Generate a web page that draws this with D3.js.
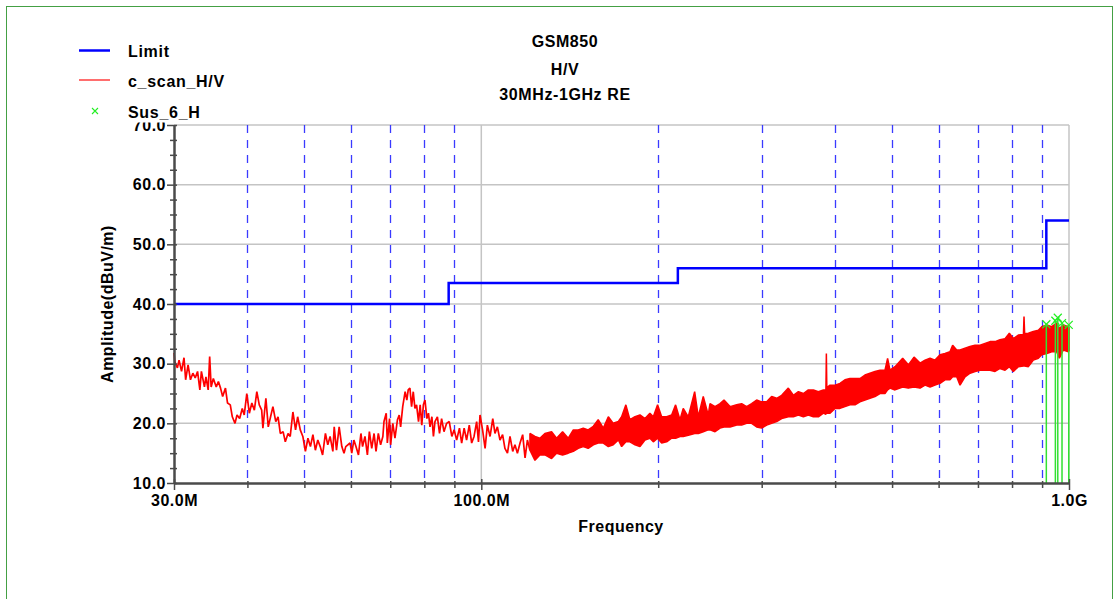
<!DOCTYPE html>
<html>
<head>
<meta charset="utf-8">
<script src="https://cdn.jsdelivr.net/npm/d3@7"></script>
<style>
  body { margin: 0; background: #fff; }
  svg text { font-family: "Liberation Sans", Arial, sans-serif; font-weight: bold; fill: #000; }
</style>
</head>
<body>
<div id="chart"></div>
<script>
// chart values
var titleLines = ["GSM850", "H/V", "30MHz-1GHz RE"];
var legendNames = ["Limit", "c_scan_H/V", "Sus_6_H"];

var yMajor = [10, 20, 30, 40, 50, 60, 70];
var yMinor = [12.5, 15, 17.5, 22.5, 25, 27.5, 32.5, 35, 37.5, 42.5, 45, 47.5, 52.5, 55, 57.5, 62.5, 65, 67.5];
var xLabelFreqs = [30, 100, 1000];
var xLabels = ["30.0M", "100.0M", "1.0G"];
var dashedFreqs = [40, 50, 60, 70, 80, 90, 200, 300, 400, 500, 600, 700, 800, 900];

var limitFreqs = [30, 88, 88, 216, 216, 915, 915, 1000];
var limitLevels = [40, 40, 43.5, 43.5, 46, 46, 54, 54];

// low band of the scan, single trace (MHz, dBuV/m)
var scanFreqs = [30.0, 30.1, 30.4, 30.6, 30.9, 31.2, 31.4, 31.7, 32.0, 32.3, 32.6, 32.9, 33.2, 33.4, 33.8, 34.0, 34.3, 34.5, 34.7, 35.0,
  35.4, 35.7, 36.0, 36.3, 36.7, 37.0, 37.4, 37.7, 38.1, 38.4, 38.8, 39.2, 39.5, 39.9, 40.3, 40.7, 41.1, 41.5, 41.9, 42.3,
  42.5, 43.0, 43.4, 43.8, 44.2, 44.7, 45.1, 45.5, 46.0, 46.4, 46.9, 47.3, 47.8, 48.3, 48.7, 49.2, 49.7, 50.2, 50.7, 51.2,
  51.7, 52.2, 52.7, 53.2, 53.7, 54.3, 54.8, 55.3, 55.9, 56.2, 56.7, 57.3, 57.9, 58.4, 58.8,
  59.8, 60.2, 60.7, 61.2, 61.8, 62.4, 62.8, 63.4, 64.0, 64.5, 65.1, 65.7, 66.2, 66.8, 67.4, 68.0, 68.3, 68.9, 69.2, 69.8,
  70.1, 70.7, 71.3, 72.0, 72.5, 72.9, 73.5, 74.2, 74.7, 75.1, 75.6, 76.1, 76.6, 77.1, 77.6, 78.2, 78.7, 79.2, 79.7, 80.2,
  80.8, 81.3, 81.8, 82.4, 82.9, 83.4, 84.2, 84.9, 85.6, 86.4, 87.3, 88.2, 89.1, 89.9, 90.8, 91.8, 92.6, 93.5, 94.4, 95.4,
  96.3, 97.2, 98.2, 98.9, 99.5, 100.5, 101.5, 102.4, 103.5, 104.6, 105.5, 106.5, 107.6, 108.7, 109.7, 110.8, 111.9, 113.1, 114.1, 115.2,
  116.4, 117.6, 118.7, 119.8, 121.0];
var scanLevels = [31.8, 30.3, 29.3, 30.6, 28.7, 31.0, 27.3, 29.8, 27.3, 28.4, 27.6, 28.7, 25.6, 28.7, 26.1, 27.8, 25.6, 31.2, 26.1, 27.5,
  26.1, 27.0, 25.9, 24.5, 25.9, 23.4, 23.1, 21.1, 20.0, 21.4, 20.8, 22.5, 21.4, 25.0, 21.7, 23.4, 22.2, 25.3, 23.1, 22.2,
  19.2, 24.2, 19.4, 21.1, 22.8, 20.3, 21.1, 18.3, 18.6, 16.9, 18.3, 17.8, 21.9, 18.9, 21.1, 18.9, 17.8, 15.3, 17.5, 16.1,
  18.1, 15.5, 17.2, 16.1, 14.7, 18.3, 16.4, 17.8, 15.3, 19.4, 15.5, 19.4, 16.1, 15.0, 16.1,
  16.7, 15.0, 17.2, 16.1, 14.7, 18.3, 16.1, 17.8, 14.7, 18.6, 15.8, 18.3, 15.3, 18.3, 16.4, 17.8, 20.3, 21.7, 16.7, 20.8,
  16.4, 20.0, 17.5, 20.6, 21.4, 19.4, 22.8, 25.3, 23.9, 25.6, 25.9, 22.8, 25.3, 22.5, 23.1, 20.3, 23.1, 19.7, 23.1, 23.9,
  20.8, 21.7, 19.4, 21.1, 17.8, 20.3, 21.1, 18.3, 20.8, 18.6, 20.0, 20.3, 17.8, 18.9, 17.2, 19.2, 16.7, 19.2, 17.2, 19.7,
  16.7, 17.8, 20.3, 16.9, 21.4, 18.9, 15.8, 19.7, 17.8, 20.8, 18.3, 19.4, 17.2, 18.1, 15.8, 15.0, 17.8, 15.3, 16.4, 15.0,
  16.7, 18.1, 14.2, 17.2, 15.5];

// upper band of the scan, dense noise: top and bottom of the band (MHz, dBuV/m)
var bandFreqs = [121.0, 123.4, 125.8, 128.3, 131.7, 134.3, 137.5, 140.6, 143.4, 146.2, 149.1, 152.0, 155.1, 158.1, 161.3, 164.5, 167.7, 171.1, 173.3, 176.2,
  179.0, 182.6, 186.2, 189.9, 193.6, 196.2, 199.5, 202.7, 206.7, 210.8, 214.1, 217.8, 220.6, 225.0, 230.7, 234.0, 238.6, 243.3,
  245.0, 249.9, 254.8, 258.8, 265.0, 272.0, 277.3, 282.8, 288.4, 294.1, 299.9, 305.9, 311.9, 318.1, 324.4, 333.0, 339.6, 346.4, 353.2, 360.2,
  367.3, 374.6, 382.0, 385.8, 386.5, 387.2, 392.1, 399.8, 407.7, 415.7, 424.0, 432.4, 440.9, 449.6, 458.5, 467.6, 476.8, 486.3, 491.3, 495.9,
  505.8, 521.2, 532.9, 544.9, 557.9, 568.9, 580.2, 591.6, 603.3, 615.2, 627.3, 633.9, 644.0, 652.5, 665.4, 678.6, 692.1, 705.8, 719.7, 733.9,
  748.4, 763.2, 778.3, 791.6, 804.2, 820.0, 836.5, 838.4, 840.5, 852.9, 869.7, 886.9, 898.6, 916.4, 934.5, 952.9, 962.9, 978.1, 997.5, 1000];
var bandTop = [18.3, 17.8, 17.5, 18.3, 18.6, 17.5, 18.6, 17.5, 18.9, 18.9, 19.2, 18.9, 19.5, 20.6, 19.2, 21.1, 20.0, 20.3, 21.1, 23.1,
  20.6, 21.1, 21.4, 20.8, 21.7, 21.1, 23.1, 21.1, 21.1, 21.4, 23.1, 20.6, 22.5, 21.1, 25.3, 21.1, 24.5, 21.4,
  23.3, 22.8, 23.3, 23.9, 22.8, 23.1, 23.3, 22.8, 23.3, 23.9, 23.6, 23.6, 24.5, 24.2, 24.7, 25.9, 24.7, 25.3, 25.0, 25.6,
  25.6, 25.3, 25.6, 25.6, 31.7, 26.0, 26.4, 26.4, 26.7, 27.3, 27.5, 27.5, 27.5, 28.1, 28.4, 28.7, 28.9, 28.9, 30.9, 28.9,
  29.5, 30.9, 29.8, 31.1, 30.1, 30.6, 30.9, 30.6, 31.5, 31.7, 32.0, 33.1, 32.3, 32.3, 32.6, 32.9, 33.1, 33.1, 33.4, 33.7,
  33.7, 34.0, 34.2, 35.1, 34.2, 34.8, 34.9, 37.9, 35.0, 35.1, 35.4, 35.6, 36.2, 36.5, 36.2, 36.8, 35.9, 36.5, 36.2, 36.0];
var bandBottom = [15.5, 13.8, 14.7, 14.7, 14.1, 15.0, 14.7, 15.0, 15.3, 15.8, 16.1, 15.8, 16.4, 16.7, 16.7, 16.1, 16.4, 17.2, 16.1, 16.9,
  16.9, 16.4, 16.1, 17.2, 17.5, 16.9, 17.5, 16.7, 16.9, 17.5, 17.5, 17.8, 17.8, 18.0, 18.3, 18.3, 18.6, 18.9,
  18.9, 18.6, 19.2, 19.4, 19.4, 19.7, 19.7, 20.0, 20.0, 19.4, 19.2, 19.7, 20.0, 20.3, 20.8, 21.1, 21.1, 21.4, 21.1, 21.4,
  21.1, 21.1, 21.7, 21.5, 23.3, 21.7, 21.7, 22.5, 22.5, 22.8, 23.1, 23.1, 23.6, 23.9, 24.2, 24.5, 25.0, 25.0, 25.6, 25.9,
  25.6, 26.1, 25.9, 26.1, 25.9, 26.4, 26.1, 26.4, 26.7, 27.3, 27.3, 27.8, 27.8, 26.4, 27.8, 28.4, 28.7, 28.9, 28.9, 28.9,
  28.7, 29.2, 28.9, 29.5, 28.7, 29.5, 29.6, 29.8, 29.6, 29.5, 30.6, 30.9, 31.5, 31.7, 32.0, 32.0, 30.9, 32.3, 32.0, 32.2];

var susFreqs = [915, 948, 957, 973, 999];
var susLevels = [36.6, 37.2, 37.7, 36.8, 36.5];

var svgWidth = 1118;
var svgHeight = 599;
var plot = { left: 174, right: 1069, top: 125, bottom: 483 };

var svg = d3.select("#chart")
    .append("svg")
    .attr("width", svgWidth)
    .attr("height", svgHeight);

var x = d3.scaleLog().domain([30, 1000]).range([plot.left, plot.right]);
var y = d3.scaleLinear().domain([10, 70]).range([plot.bottom, plot.top]);

// outer frame
svg.append("rect")
    .attr("x", 6.5).attr("y", 6.5)
    .attr("width", 1106).attr("height", 640)
    .attr("fill", "none")
    .attr("stroke", "#44a044")
    .attr("stroke-width", 1);

// title
svg.selectAll(".title")
    .data(titleLines)
    .enter()
    .append("text")
    .attr("class", "title")
    .attr("x", 565)
    .attr("y", (d, i) => [47, 75, 100][i])
    .attr("text-anchor", "middle")
    .style("font-size", "16px")
    .style("letter-spacing", "0.6px")
    .text(d => d);

// grid
var grid = svg.append("g");
grid.selectAll(".hgrid")
    .data([20, 30, 40, 50, 60, 70])
    .enter()
    .append("line")
    .attr("x1", plot.left).attr("x2", plot.right)
    .attr("y1", d => y(d)).attr("y2", d => y(d))
    .attr("stroke", "#c4c4c4")
    .attr("stroke-width", 1.5);
grid.selectAll(".vgrid")
    .data([100, 1000])
    .enter()
    .append("line")
    .attr("x1", d => x(d)).attr("x2", d => x(d))
    .attr("y1", plot.top).attr("y2", plot.bottom)
    .attr("stroke", "#c4c4c4")
    .attr("stroke-width", 1.5);
grid.selectAll(".dashed")
    .data(dashedFreqs)
    .enter()
    .append("line")
    .attr("x1", d => Math.round(x(d)) + 0.5).attr("x2", d => Math.round(x(d)) + 0.5)
    .attr("y1", plot.top).attr("y2", plot.bottom)
    .attr("stroke", "#3a3aff")
    .attr("stroke-width", 1.3)
    .attr("stroke-dasharray", "8,7");

// limit
var limitData = limitFreqs.map((f, i) => [f, limitLevels[i]]);
svg.append("path")
    .datum(limitData)
    .attr("fill", "none")
    .attr("stroke", "#0000ff")
    .attr("stroke-width", 2.5)
    .attr("d", d3.line().x(d => x(d[0])).y(d => y(d[1])));

// scan: low part as a line, upper part as a dense band
var scanData = scanFreqs.map((f, i) => [f, scanLevels[i]]);
svg.append("path")
    .datum(scanData)
    .attr("fill", "none")
    .attr("stroke", "#ff0000")
    .attr("stroke-width", 1.7)
    .attr("stroke-linejoin", "bevel")
    .attr("d", d3.line().x(d => x(d[0])).y(d => y(d[1])));

var bandData = bandFreqs.map((f, i) => ({ f: f, top: bandTop[i], bottom: bandBottom[i] }));
svg.append("path")
    .datum(bandData)
    .attr("fill", "#ff0000")
    .attr("stroke", "#ff0000")
    .attr("stroke-width", 1.5)
    .attr("stroke-linejoin", "bevel")
    .attr("d", d3.area().x(d => x(d.f)).y0(d => y(d.bottom)).y1(d => y(d.top)));

// suspect markers
var sus = svg.append("g");
susFreqs.forEach(function(f, i) {
    var cx = x(f), cy = y(susLevels[i]);
    sus.append("line")
        .attr("x1", cx).attr("x2", cx)
        .attr("y1", cy).attr("y2", plot.bottom)
        .attr("stroke", "#33e033")
        .attr("stroke-width", 1.5);
    sus.append("path")
        .attr("d", `M${cx - 4},${cy - 4}L${cx + 4},${cy + 4}M${cx - 4},${cy + 4}L${cx + 4},${cy - 4}`)
        .attr("stroke", "#22ee22")
        .attr("stroke-width", 1.2);
});

// axes
var axisColor = "#4a4a4a";
var leftAxis = d3.axisLeft(y).tickValues(yMajor).tickFormat(d => d.toFixed(1)).tickSize(7).tickSizeOuter(0).tickPadding(1);
var yAxisG = svg.append("g")
    .attr("transform", `translate(${plot.left}, 0)`)
    .call(leftAxis);
var yMinorG = svg.append("g")
    .attr("transform", `translate(${plot.left}, 0)`)
    .call(d3.axisLeft(y).tickValues(yMinor).tickFormat("").tickSize(4).tickSizeOuter(0));
yMinorG.select(".domain").remove();
yMinorG.selectAll(".tick line").attr("x2", -4).attr("x1", 3).attr("stroke", axisColor).attr("stroke-width", 1.5);
yAxisG.selectAll(".tick line").attr("x1", 3).attr("stroke", axisColor).attr("stroke-width", 1.5);
yAxisG.select(".domain").attr("stroke", axisColor).attr("stroke-width", 2.5);
yAxisG.selectAll("text")
    .style("font-size", "16px")
    .style("letter-spacing", "0.5px")
    .style("font-family", "'Liberation Sans', Arial, sans-serif");

var bottomAxis = d3.axisBottom(x).tickValues(xLabelFreqs).tickFormat((d, i) => xLabels[i]).tickSize(7).tickSizeOuter(0).tickPadding(5);
var xAxisG = svg.append("g")
    .attr("transform", `translate(0, ${plot.bottom})`)
    .call(bottomAxis);
xAxisG.select(".domain").attr("stroke", axisColor).attr("stroke-width", 2.5);
xAxisG.selectAll(".tick line").attr("y1", -4).attr("stroke", axisColor).attr("stroke-width", 1.5);
xAxisG.selectAll("text")
    .style("font-size", "16px")
    .style("letter-spacing", "0.5px")
    .style("font-family", "'Liberation Sans', Arial, sans-serif");
var xMinorG = svg.append("g")
    .attr("transform", `translate(0, ${plot.bottom})`)
    .call(d3.axisBottom(x).tickValues(dashedFreqs).tickFormat("").tickSize(5).tickSizeOuter(0));
xMinorG.select(".domain").remove();
xMinorG.selectAll(".tick line").attr("y1", -2).attr("stroke", axisColor).attr("stroke-width", 1.5);

// axis titles
svg.append("text")
    .attr("x", 621)
    .attr("y", 532)
    .attr("text-anchor", "middle")
    .style("font-size", "16px")
    .style("letter-spacing", "0.5px")
    .text("Frequency");

svg.append("text")
    .attr("transform", "translate(113, 304) rotate(-90)")
    .attr("text-anchor", "middle")
    .style("font-size", "16px")
    .style("letter-spacing", "0.5px")
    .text("Amplitude(dBuV/m)");

// legend (its white box sits over the top tick label, as in the original)
var legend = svg.append("g");
legend.append("rect")
    .attr("x", 70).attr("y", 30)
    .attr("width", 200).attr("height", 92.5)
    .attr("fill", "#fff");
legend.append("line")
    .attr("x1", 79).attr("x2", 110).attr("y1", 50.5).attr("y2", 50.5)
    .attr("stroke", "#0000ff").attr("stroke-width", 2.5);
legend.append("line")
    .attr("x1", 79).attr("x2", 110).attr("y1", 80).attr("y2", 80)
    .attr("stroke", "#ff2020").attr("stroke-width", 1.3);
legend.append("path")
    .attr("d", "M92,108L98,114M92,114L98,108")
    .attr("stroke", "#22ee22").attr("stroke-width", 1.1);
legend.selectAll(".legtext")
    .data(legendNames)
    .enter()
    .append("text")
    .attr("x", 128)
    .attr("y", (d, i) => [57, 87, 118][i])
    .style("font-size", "16px")
    .style("letter-spacing", "0.7px")
    .text(d => d);
</script>
</body>
</html>
